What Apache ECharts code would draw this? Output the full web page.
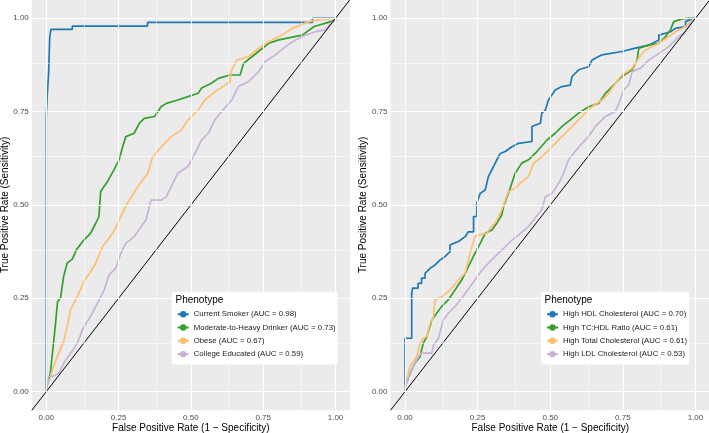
<!DOCTYPE html>
<html>
<head>
<meta charset="utf-8">
<script src="https://cdn.jsdelivr.net/npm/echarts@6/dist/echarts.min.js"></script>
<style>
  html, body { margin: 0; padding: 0; background: #fff; }
  #main { width: 709px; height: 433px; }
</style>
</head>
<body>
<div id="main"></div>
<script>
// ROC points [fpr, tpr]
const currentSmoker = [[0,0],[0,0.736],[0.0035,0.736],[0.0035,0.794],[0.008,0.794],[0.008,0.853],[0.012,0.853],[0.012,0.95],[0.016,0.95],[0.016,0.97],[0.09,0.97],[0.09,0.979],[0.35,0.979],[0.35,0.989],[0.92,0.989],[0.92,1],[1,1]]
const heavyDrinker = [[0,0],[0.002,0.013],[0.014,0.049],[0.02,0.094],[0.031,0.174],[0.039,0.241],[0.049,0.25],[0.06,0.308],[0.072,0.344],[0.09,0.355],[0.105,0.381],[0.13,0.406],[0.153,0.424],[0.171,0.451],[0.182,0.469],[0.188,0.536],[0.211,0.562],[0.234,0.594],[0.252,0.621],[0.264,0.656],[0.275,0.683],[0.304,0.692],[0.322,0.719],[0.339,0.732],[0.374,0.737],[0.397,0.763],[0.415,0.772],[0.455,0.781],[0.49,0.79],[0.525,0.799],[0.537,0.813],[0.571,0.826],[0.595,0.839],[0.635,0.848],[0.67,0.848],[0.682,0.879],[0.711,0.897],[0.74,0.915],[0.769,0.933],[0.804,0.942],[0.885,0.955],[0.926,0.978],[0.966,0.987],[1,0.995],[1,1]]
const obese = [[0,0],[0.002,0.018],[0.014,0.04],[0.025,0.067],[0.043,0.103],[0.06,0.134],[0.072,0.174],[0.084,0.219],[0.107,0.254],[0.13,0.295],[0.153,0.321],[0.171,0.344],[0.194,0.388],[0.217,0.411],[0.24,0.438],[0.258,0.47],[0.281,0.505],[0.316,0.549],[0.351,0.585],[0.368,0.629],[0.409,0.665],[0.432,0.683],[0.467,0.701],[0.49,0.728],[0.525,0.754],[0.548,0.781],[0.583,0.803],[0.618,0.821],[0.635,0.83],[0.641,0.861],[0.659,0.888],[0.699,0.897],[0.734,0.919],[0.769,0.937],[0.815,0.955],[0.85,0.973],[0.908,0.991],[0.955,0.997],[1,1]]
const collegeEducated = [[0,0],[0.002,0.013],[0.014,0.04],[0.025,0.042],[0.043,0.049],[0.06,0.076],[0.084,0.103],[0.107,0.13],[0.13,0.174],[0.153,0.201],[0.177,0.237],[0.2,0.272],[0.217,0.313],[0.24,0.33],[0.258,0.371],[0.275,0.397],[0.304,0.415],[0.328,0.442],[0.345,0.46],[0.351,0.48],[0.362,0.513],[0.397,0.513],[0.415,0.522],[0.432,0.549],[0.455,0.585],[0.49,0.603],[0.514,0.638],[0.537,0.674],[0.56,0.692],[0.583,0.728],[0.606,0.75],[0.641,0.781],[0.664,0.817],[0.699,0.83],[0.734,0.857],[0.757,0.884],[0.792,0.902],[0.827,0.924],[0.862,0.942],[0.897,0.955],[0.931,0.964],[0.966,0.969],[0.984,0.987],[1,0.995],[1,1]]

const highHdl = [[0,0],[0,0.143],[0.023,0.143],[0.023,0.263],[0.026,0.277],[0.045,0.277],[0.045,0.29],[0.057,0.29],[0.057,0.304],[0.069,0.304],[0.069,0.317],[0.086,0.33],[0.103,0.339],[0.121,0.353],[0.138,0.362],[0.155,0.375],[0.155,0.393],[0.184,0.402],[0.207,0.415],[0.218,0.428],[0.236,0.428],[0.236,0.469],[0.247,0.469],[0.247,0.505],[0.259,0.531],[0.276,0.54],[0.287,0.576],[0.305,0.603],[0.316,0.621],[0.328,0.638],[0.345,0.643],[0.368,0.656],[0.391,0.665],[0.437,0.67],[0.437,0.71],[0.466,0.719],[0.471,0.746],[0.483,0.754],[0.494,0.781],[0.517,0.808],[0.54,0.817],[0.569,0.821],[0.575,0.844],[0.598,0.862],[0.632,0.87],[0.644,0.888],[0.678,0.902],[0.747,0.911],[0.793,0.92],[0.839,0.928],[0.874,0.942],[0.874,0.955],[0.914,0.964],[0.931,0.973],[0.966,0.978],[0.966,0.991],[0.977,0.995],[1,1]]
const tcHdlRatio = [[0,0],[0,0.013],[0.011,0.036],[0.023,0.058],[0.034,0.076],[0.052,0.094],[0.057,0.112],[0.063,0.13],[0.075,0.147],[0.092,0.192],[0.109,0.21],[0.126,0.228],[0.149,0.246],[0.172,0.272],[0.195,0.299],[0.207,0.317],[0.224,0.344],[0.241,0.371],[0.259,0.397],[0.276,0.424],[0.299,0.433],[0.316,0.451],[0.333,0.473],[0.339,0.495],[0.362,0.545],[0.379,0.585],[0.402,0.612],[0.425,0.621],[0.454,0.643],[0.489,0.674],[0.517,0.692],[0.54,0.71],[0.569,0.728],[0.598,0.746],[0.632,0.763],[0.667,0.772],[0.69,0.799],[0.724,0.826],[0.747,0.844],[0.782,0.862],[0.799,0.888],[0.805,0.92],[0.839,0.928],[0.874,0.933],[0.897,0.951],[0.914,0.969],[0.925,0.991],[0.954,0.998],[0.977,1],[1,1]]
const totalChol = [[0,0],[0,0.013],[0.017,0.067],[0.029,0.08],[0.04,0.094],[0.052,0.13],[0.063,0.143],[0.075,0.147],[0.086,0.183],[0.098,0.201],[0.103,0.246],[0.126,0.254],[0.155,0.272],[0.184,0.299],[0.207,0.317],[0.224,0.371],[0.23,0.388],[0.241,0.415],[0.253,0.42],[0.282,0.424],[0.293,0.438],[0.31,0.451],[0.322,0.469],[0.333,0.487],[0.345,0.513],[0.356,0.536],[0.379,0.545],[0.402,0.562],[0.425,0.576],[0.443,0.612],[0.471,0.629],[0.506,0.656],[0.54,0.683],[0.575,0.71],[0.609,0.737],[0.644,0.763],[0.678,0.781],[0.701,0.799],[0.724,0.826],[0.747,0.848],[0.782,0.866],[0.816,0.906],[0.839,0.92],[0.874,0.933],[0.908,0.951],[0.931,0.964],[0.966,0.978],[0.983,0.991],[1,1]]
const ldlChol = [[0,0],[0,0.013],[0.017,0.049],[0.034,0.076],[0.046,0.094],[0.057,0.103],[0.092,0.103],[0.098,0.125],[0.115,0.143],[0.132,0.192],[0.149,0.21],[0.172,0.228],[0.195,0.25],[0.224,0.281],[0.253,0.313],[0.276,0.335],[0.299,0.353],[0.322,0.371],[0.345,0.388],[0.368,0.406],[0.391,0.42],[0.425,0.442],[0.448,0.465],[0.471,0.487],[0.483,0.522],[0.506,0.531],[0.529,0.558],[0.546,0.585],[0.563,0.621],[0.58,0.638],[0.609,0.665],[0.632,0.683],[0.655,0.71],[0.69,0.737],[0.724,0.75],[0.736,0.772],[0.753,0.808],[0.77,0.821],[0.782,0.857],[0.81,0.866],[0.839,0.888],[0.874,0.906],[0.908,0.924],[0.943,0.951],[0.96,0.96],[0.977,0.978],[0.989,0.995],[1,1]]

const leftNames = ['Current Smoker (AUC = 0.98)', 'Moderate-to-Heavy Drinker (AUC = 0.73)', 'Obese (AUC = 0.67)', 'College Educated (AUC = 0.59)']
const rightNames = ['High HDL Cholesterol (AUC = 0.70)', 'High TC:HDL Ratio (AUC = 0.61)', 'High Total Cholesterol (AUC = 0.61)', 'High LDL Cholesterol (AUC = 0.53)']
const palette = ['#1F78B4', '#33A02C', '#FDBF6F', '#CAB2D6']
const tickValues = [0, 0.25, 0.5, 0.75, 1]
const minorValues = [0.125, 0.375, 0.625, 0.875]
const diagonal = [[-0.05, -0.05], [1.05, 1.05]]

const font = "'Liberation Sans', Arial, sans-serif"
const chart = echarts.init(document.getElementById('main'))

function makeAxis (idx, isX) {
  return {
    type: 'value',
    gridIndex: idx,
    min: -0.05,
    max: 1.05,
    name: isX ? 'False Positive Rate (1 \u2212 Specificity)' : 'True Positive Rate (Sensitivity)',
    nameLocation: 'middle',
    nameGap: isX ? 13 : 22,
    nameMoveOverlap: false,
    nameTextStyle: { fontFamily: font, fontSize: 10, color: '#000' },
    axisLine: { show: false },
    axisTick: { show: true, length: 2.5, customValues: tickValues, lineStyle: { color: '#333', width: 1 } },
    axisLabel: {
      customValues: tickValues,
      margin: 3,
      fontFamily: font,
      fontSize: 8,
      color: '#4D4D4D',
      formatter: v => v.toFixed(2)
    },
    splitLine: { show: false }
  }
}

// white major + minor grid lines, drawn through the axes' scales
function gridSeries (idx) {
  const lines = []
  for (const v of tickValues) {
    lines.push({ xAxis: v, lineStyle: { width: 1.1 } })
    lines.push({ yAxis: v, lineStyle: { width: 1.1 } })
  }
  for (const v of minorValues) {
    lines.push({ xAxis: v, lineStyle: { width: 0.55 } })
    lines.push({ yAxis: v, lineStyle: { width: 0.55 } })
  }
  return {
    type: 'line',
    xAxisIndex: idx,
    yAxisIndex: idx,
    data: [],
    silent: true,
    z: 1,
    markLine: {
      silent: true,
      symbol: 'none',
      label: { show: false },
      lineStyle: { color: '#fff', type: 'solid' },
      emphasis: { disabled: true },
      animation: false,
      data: lines
    }
  }
}

function rocSeries (name, data, color, idx) {
  return {
    name: name,
    type: 'line',
    xAxisIndex: idx,
    yAxisIndex: idx,
    data: data,
    showSymbol: false,
    symbol: 'circle',
    symbolSize: 4,
    color: color,
    lineStyle: { width: 1.7, color: color },
    z: 3,
    animation: false
  }
}

function diagSeries (idx) {
  return {
    type: 'line',
    xAxisIndex: idx,
    yAxisIndex: idx,
    data: diagonal,
    showSymbol: false,
    silent: true,
    lineStyle: { width: 1, color: '#000' },
    z: 4,
    animation: false
  }
}

function makeLegend (names, left) {
  return {
    data: names,
    left: left,
    top: 291.7,
    z: 20,
    orient: 'vertical',
    backgroundColor: '#fff',
    padding: [17, 2, 5, 5],
    itemWidth: 11,
    itemHeight: 8,
    itemGap: 2.3,
    textStyle: { fontFamily: font, fontSize: 7.8, color: '#1a1a1a', lineHeight: 11 }
  }
}

const titleStyle = { fontFamily: font, fontSize: 10, fontWeight: 'normal', color: '#000' }

const option = {
  animation: false,
  backgroundColor: '#fff',
  title: [
    { text: 'Phenotype', left: 175.5, top: 295, padding: 0, z: 21, textStyle: titleStyle },
    { text: 'Phenotype', left: 544.5, top: 295, padding: 0, z: 21, textStyle: titleStyle }
  ],
  legend: [makeLegend(leftNames, 171.7), makeLegend(rightNames, 541)],
  grid: [
    { left: 31.8, top: -0.4, width: 318.2, height: 410.7, show: true, backgroundColor: '#EBEBEB', borderWidth: 0, containLabel: false, outerBoundsMode: 'none' },
    { left: 390.5, top: -0.4, width: 319.5, height: 410.7, show: true, backgroundColor: '#EBEBEB', borderWidth: 0, containLabel: false, outerBoundsMode: 'none' }
  ],
  xAxis: [makeAxis(0, true), makeAxis(1, true)],
  yAxis: [makeAxis(0, false), makeAxis(1, false)],
  series: [
    gridSeries(0),
    gridSeries(1),
    rocSeries(leftNames[0], currentSmoker, palette[0], 0),
    rocSeries(leftNames[1], heavyDrinker, palette[1], 0),
    rocSeries(leftNames[2], obese, palette[2], 0),
    rocSeries(leftNames[3], collegeEducated, palette[3], 0),
    rocSeries(rightNames[0], highHdl, palette[0], 1),
    rocSeries(rightNames[1], tcHdlRatio, palette[1], 1),
    rocSeries(rightNames[2], totalChol, palette[2], 1),
    rocSeries(rightNames[3], ldlChol, palette[3], 1),
    diagSeries(0),
    diagSeries(1)
  ]
}

chart.setOption(option)
</script>
</body>
</html>
